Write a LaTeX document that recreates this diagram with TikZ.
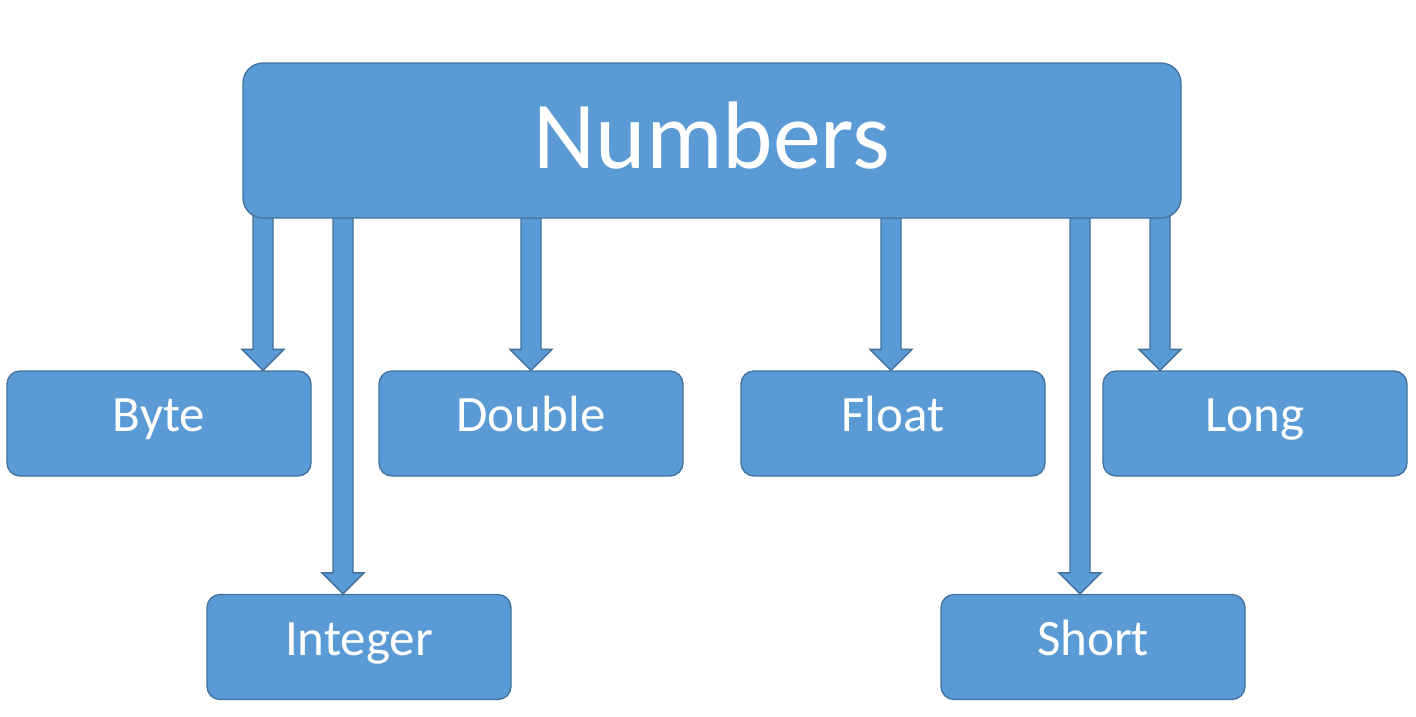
\documentclass[tikz,border=0pt]{standalone}
\usepackage{fontspec}
\setmainfont{Carlito}
\usetikzlibrary{calc,backgrounds}
\definecolor{boxfill}{HTML}{5B9BD5}
\definecolor{boxline}{HTML}{41719C}
\tikzset{
  topbox/.style={draw=boxline, fill=boxfill, line width=1.3pt, rounded corners=20pt,
    minimum width=938pt, minimum height=155pt, inner sep=0pt, text=white,
    font=\fontsize{96}{100}\selectfont, text height=62pt, text depth=7pt},
  leafbox/.style={draw=boxline, fill=boxfill, line width=1.3pt, rounded corners=13pt,
    minimum width=304pt, minimum height=105pt, inner sep=0pt, text=white,
    font=\fontsize{51}{60}\selectfont, text height=33pt, text depth=17pt},
  arrsty/.style={draw=boxline, fill=boxfill, line width=1.3pt, line join=miter}
}
\newcommand\blockarrow[2]{%
  \filldraw[arrsty] let \p1=(#1), \p2=(#2) in
    ({\x1-10pt},{\y1+6pt}) -- ({\x1-10pt},{\y2+21pt}) -- ({\x1-21pt},{\y2+21pt}) --
    (\x1,\y2) -- ({\x1+21pt},{\y2+21pt}) -- ({\x1+10pt},{\y2+21pt}) --
    ({\x1+10pt},{\y1+6pt}) -- cycle;}
\begin{document}
\begin{tikzpicture}[x=1pt,y=-1pt]
\useasboundingbox (0,0) rectangle (1416,716);
\node[topbox] (num) at (712,140.5) {Numbers};
\node[leafbox] (byte) at (159,423.5) {Byte};
\node[leafbox] (double) at (531,423.5) {Double};
\node[leafbox] (float) at (893,423.5) {Float};
\node[leafbox] (long) at (1255,423.5) {Long};
\node[leafbox] (integer) at (359,647) {Integer};
\node[leafbox] (short) at (1093,647) {Short};
\coordinate (xb) at (263,0);
\coordinate (xi) at (343,0);
\coordinate (xd) at (531,0);
\coordinate (xf) at (891,0);
\coordinate (xs) at (1080,0);
\coordinate (xl) at (1160,0);
\begin{pgfonlayer}{background}
\blockarrow{num.south -| xb}{byte.north -| xb}
\blockarrow{num.south -| xi}{integer.north -| xi}
\blockarrow{num.south -| xd}{double.north -| xd}
\blockarrow{num.south -| xf}{float.north -| xf}
\blockarrow{num.south -| xs}{short.north -| xs}
\blockarrow{num.south -| xl}{long.north -| xl}
\end{pgfonlayer}
\end{tikzpicture}
\end{document}
